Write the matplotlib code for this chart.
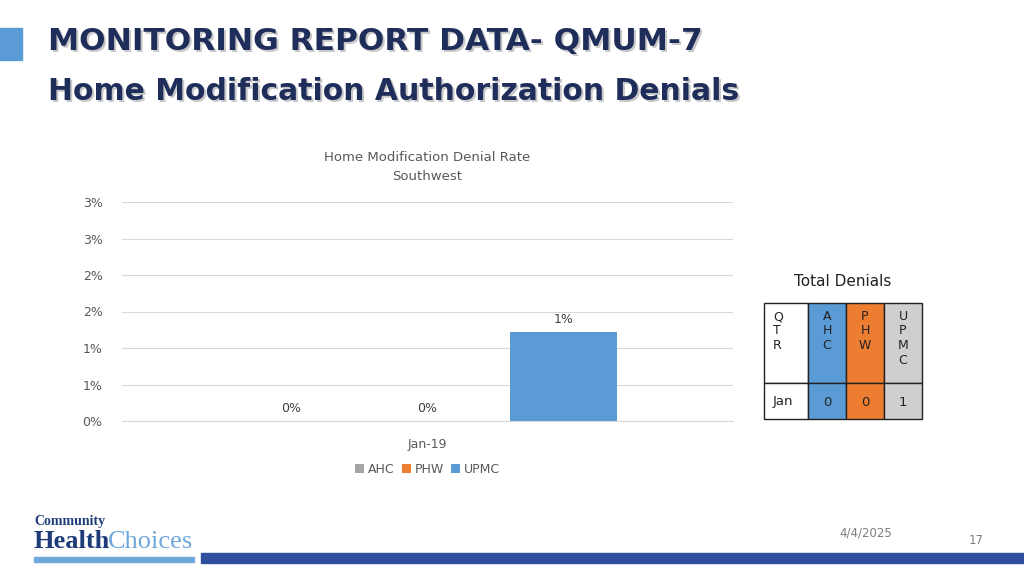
import matplotlib.pyplot as plt
from matplotlib.patches import Rectangle
from matplotlib.ticker import FuncFormatter

# Data
series = ['AHC', 'PHW', 'UPMC']
rates = [0.0, 0.0, 1.22]          # percent
colors = ['#a5a5a5', '#ed7d31', '#5b9bd5']
category = 'Jan-19'
table_heads = ['QTR', 'AHC', 'PHW', 'UPMC']
table_row = ['Jan', '0', '0', '1']
table_colors = ['white', '#5b9bd5', '#ed7d31', '#d0cece']

fig = plt.figure(figsize=(10.24, 5.76), dpi=100)
W, H = 1024, 576

def fx(x): return x / W
def fy(y): return 1 - y / H

# Header
fig.patches.append(Rectangle((fx(0), fy(60)), fx(22), 32 / H, transform=fig.transFigure,
                             color='#5b9bd5'))
for dx, col in [(1.5, '#c8c8c8'), (0, '#1f2d5a')]:
    fig.text(fx(48 + dx), fy(42 + dx), 'MONITORING REPORT DATA- QMUM-7', fontsize=22.5,
             fontweight='bold', color=col, va='center', family='DejaVu Sans')
    fig.text(fx(48 + dx), fy(92 + dx), 'Home Modification Authorization Denials', fontsize=21.5,
             fontweight='bold', color=col, va='center', family='DejaVu Sans')

# Chart
ax = fig.add_axes([fx(122), fy(421), 611 / W, 219 / H])
pos = [-1, 0, 1]
for p, v, c, s in zip(pos, rates, colors, series):
    ax.bar(p, v, width=0.78, color=c, label=s)
    ax.text(p, v + 0.08, f'{v:.0f}%', ha='center', va='bottom', fontsize=9, color='#404040')
ax.set_xlim(-2.246, 2.246)
ax.set_ylim(0, 3)
ax.set_yticks([0, 0.5, 1, 1.5, 2, 2.5, 3])
ax.yaxis.set_major_formatter(FuncFormatter(lambda v, _: f'{int(v + 0.5)}%'))
ax.set_xticks([0])
ax.set_xticklabels([category])
ax.tick_params(length=0, labelsize=9, colors='#595959', pad=12)
ax.tick_params(axis='y', pad=14)
ax.grid(axis='y', color='#d9d9d9', linewidth=0.8)
ax.set_axisbelow(True)
for s in ax.spines.values():
    s.set_visible(False)
ax.spines['bottom'].set_visible(True)
ax.spines['bottom'].set_color('#d9d9d9')
ax.set_title('Home Modification Denial Rate\nSouthwest', fontsize=9.5, color='#595959',
             pad=16, linespacing=1.6)
ax.legend(loc='upper center', bbox_to_anchor=(0.5, -0.14), ncol=3, frameon=False,
          fontsize=9, handlelength=0.7, handleheight=0.7, handletextpad=0.3,
          columnspacing=0.6, labelcolor='#595959')

# Table
fig.text(fx(843), fy(281), 'Total Denials', fontsize=11, ha='center', va='center', color='#222222')
xs = [764, 808, 846, 884, 922]
ys = [303, 383, 419]
for i in range(4):
    for r in range(2):
        fig.patches.append(Rectangle((fx(xs[i]), fy(ys[r + 1])), (xs[i + 1] - xs[i]) / W,
                                     (ys[r + 1] - ys[r]) / H, transform=fig.transFigure,
                                     facecolor=table_colors[i], edgecolor='#222222', lw=1))
    cx = xs[i] + 9 if i == 0 else (xs[i] + xs[i + 1]) / 2
    ha = 'left' if i == 0 else 'center'
    fig.text(fx(cx), fy(310), '\n'.join(table_heads[i]), fontsize=9, ha=ha, va='top',
             color='#222222', linespacing=1.15)
    fig.text(fx(cx), fy(403 if i else 401), table_row[i], fontsize=9.5, ha=ha, va='center',
             color='#222222')

# Footer
fig.text(fx(34), fy(522), 'Community', fontsize=10, fontweight='bold', color='#1f3c7a',
         family='Liberation Serif', va='center')
fig.text(fx(33), fy(542), 'Health', fontsize=19, fontweight='bold', color='#1f3c7a',
         family='Liberation Serif', va='center')
fig.text(fx(108), fy(542), 'Choices', fontsize=19, color='#6fa8dc',
         family='Liberation Serif', va='center')
fig.patches.append(Rectangle((fx(34), fy(562)), 160 / W, 5 / H, transform=fig.transFigure,
                             color='#6fa8dc'))
fig.patches.append(Rectangle((fx(201), fy(563)), 823 / W, 10 / H, transform=fig.transFigure,
                             color='#2e4f9e'))
fig.text(fx(866), fy(533), '4/4/2025', fontsize=8.5, color='#7f7f7f', ha='center', va='center')
fig.text(fx(976), fy(540), '17', fontsize=8.5, color='#7f7f7f', ha='center', va='center')

fig.savefig('out.png', dpi=100)
